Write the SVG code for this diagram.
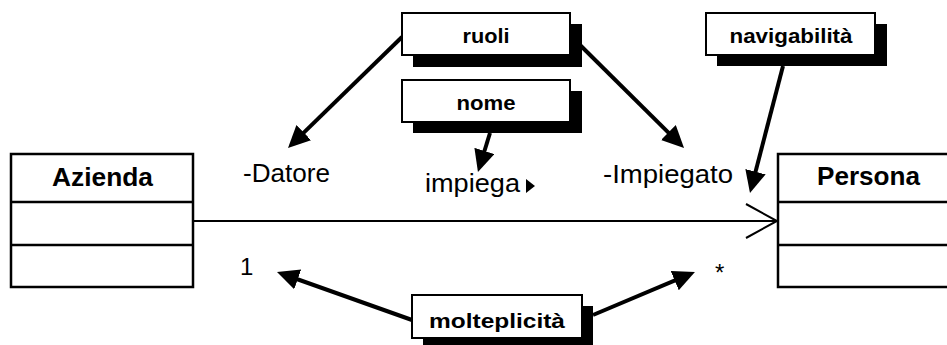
<svg xmlns="http://www.w3.org/2000/svg" width="947" height="345" viewBox="0 0 947 345">
<defs>
<style>
.cls{fill:#fff;stroke:#000;stroke-width:2.5}
.div{stroke:#000;stroke-width:2.5}
.note{fill:#fff;stroke:#000;stroke-width:2}
.shadow{fill:#000}
.ttl{font-family:"Liberation Sans",Arial,sans-serif;font-weight:bold;font-size:26px;fill:#000}
.nt{font-family:"Liberation Sans",Arial,sans-serif;font-weight:bold;font-size:21px;fill:#000;text-anchor:middle}
.lbl{font-family:"Liberation Sans",Arial,sans-serif;font-size:26px;fill:#000}
.arr{fill:none;stroke:#000;stroke-width:4;marker-end:url(#head)}
.assoc{fill:none;stroke:#000;stroke-width:2}
</style>
<marker id="head" markerUnits="userSpaceOnUse" markerWidth="24" markerHeight="22" refX="10" refY="10.5" orient="auto" viewBox="0 0 24 22">
<path d="M0,0 L22,10.5 L0,21 z" fill="#000"/>
</marker>
</defs>
<rect width="947" height="345" fill="#fff"/>

<g id="connectors">
<line class="assoc" x1="193" y1="221" x2="777" y2="221"/>
<polyline class="assoc" points="746,204 777,221 746,238"/>
<line class="arr" x1="402" y1="37" x2="296.6" y2="139.6"/>
<line class="arr" x1="580" y1="45" x2="675.5" y2="139.6"/>
<line class="arr" x1="490" y1="133" x2="481.5" y2="160.5"/>
<line class="arr" x1="783" y1="66" x2="753" y2="181.4"/>
<line class="arr" x1="412" y1="320" x2="288.3" y2="276"/>
<line class="arr" x1="593" y1="315" x2="683.9" y2="276.7"/>
</g>

<g id="Azienda">
<rect class="cls" x="11" y="154" width="182" height="133"/>
<line class="div" x1="11" y1="202" x2="193" y2="202"/>
<line class="div" x1="11" y1="245" x2="193" y2="245"/>
<text class="ttl" x="52" y="186" textLength="101" lengthAdjust="spacingAndGlyphs">Azienda</text>
</g>

<g id="Persona">
<rect class="cls" x="778" y="154" width="185" height="133"/>
<line class="div" x1="778" y1="202" x2="963" y2="202"/>
<line class="div" x1="778" y1="245" x2="963" y2="245"/>
<text class="ttl" x="817" y="185" textLength="103" lengthAdjust="spacingAndGlyphs">Persona</text>
</g>

<g id="ruoli">
<rect class="shadow" x="413" y="24" width="169" height="43"/>
<rect class="note" x="402" y="13" width="168" height="42"/>
<text class="nt" x="486" y="43" textLength="47" lengthAdjust="spacingAndGlyphs">ruoli</text>
</g>

<g id="nome">
<rect class="shadow" x="413" y="91" width="169" height="42"/>
<rect class="note" x="402" y="80" width="168" height="42"/>
<text class="nt" x="486" y="110" textLength="59" lengthAdjust="spacingAndGlyphs">nome</text>
</g>

<g id="navigabilita">
<rect class="shadow" x="717" y="24" width="170" height="42"/>
<rect class="note" x="706" y="13" width="169" height="42"/>
<text class="nt" x="791" y="43" textLength="123" lengthAdjust="spacingAndGlyphs">navigabilità</text>
</g>

<g id="molteplicita">
<rect class="shadow" x="423" y="306" width="170" height="40"/>
<rect class="note" x="412" y="295" width="170" height="43"/>
<text class="nt" x="497" y="328" textLength="136" lengthAdjust="spacingAndGlyphs">molteplicità</text>
</g>

<g id="labels">
<text class="lbl" x="243" y="182" textLength="87" lengthAdjust="spacingAndGlyphs">-Datore</text>
<text class="lbl" x="603" y="183" textLength="130" lengthAdjust="spacingAndGlyphs">-Impiegato</text>
<text class="lbl" x="425" y="192" textLength="95" lengthAdjust="spacingAndGlyphs">impiega</text>
<polygon points="526,179 535,186 526,193" fill="#000"/>
<text class="lbl" x="240" y="275" style="font-size:24px">1</text>
<text class="lbl" x="715" y="281" style="font-size:24px">*</text>
</g>
</svg>
